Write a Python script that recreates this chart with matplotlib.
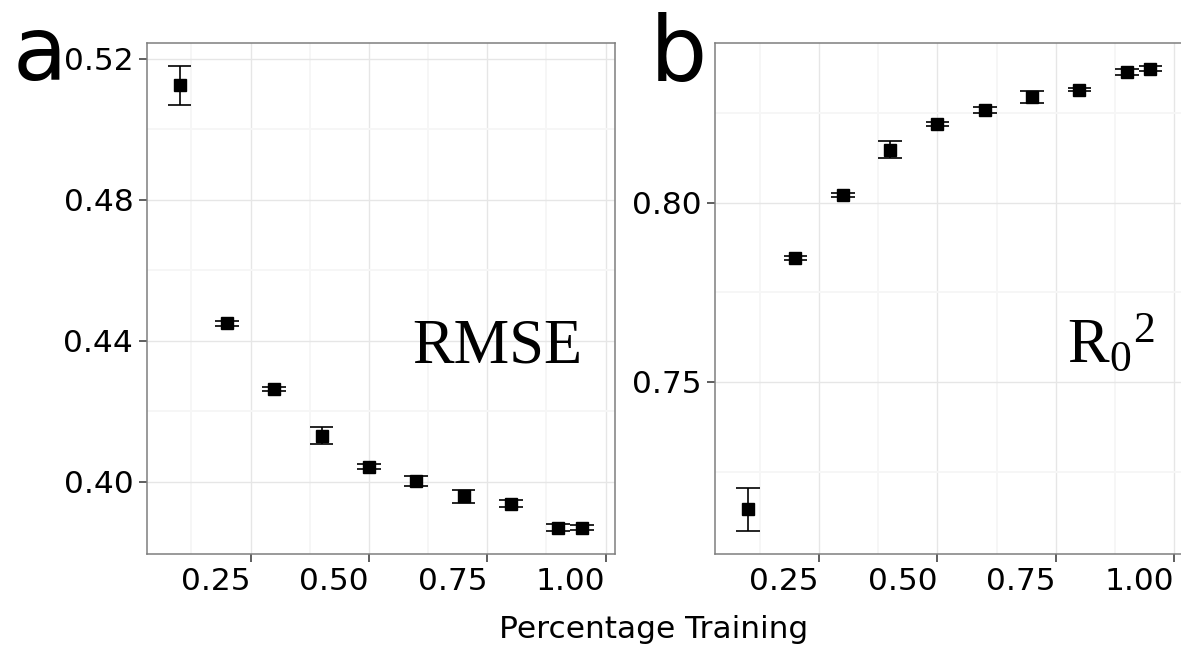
import numpy as np
from matplotlib import pyplot as plt

# -------------------------------------------------------------------
# values
pct = [0.10, 0.20, 0.30, 0.40, 0.50, 0.60, 0.70, 0.80, 0.90, 0.95]
rmse = [0.5124, 0.4449, 0.4263, 0.4131, 0.4043, 0.4002, 0.3959, 0.3938, 0.3870, 0.3870]
rmse_err = [0.0056, 0.0008, 0.0007, 0.0025, 0.0008, 0.0015, 0.0018, 0.0010, 0.0009, 0.0006]
r2 = [0.7145, 0.7845, 0.8021, 0.8148, 0.8220, 0.8259, 0.8294, 0.8315, 0.8364, 0.8374]
r2_err = [0.0060, 0.0006, 0.0006, 0.0024, 0.0006, 0.0008, 0.0017, 0.0004, 0.0009, 0.0008]

x_ticks = [0.25, 0.50, 0.75, 1.00]
x_labels = ['0.25', '0.50', '0.75', '1.00']
x_minor = [0.125, 0.375, 0.625, 0.875]
rmse_ticks = [0.40, 0.44, 0.48, 0.52]
rmse_labels = ['0.40', '0.44', '0.48', '0.52']
rmse_minor = [0.42, 0.46, 0.50]
r2_ticks = [0.75, 0.80]
r2_labels = ['0.75', '0.80']
r2_minor = [0.725, 0.775, 0.825]

bar_w = 0.05
W, H = 1181, 646

# -------------------------------------------------------------------
fig = plt.figure(figsize=(W / 100, H / 100), dpi=100)
ax_a = fig.add_axes([146.5 / W, 92 / H, 468.5 / W, 511.5 / H])
ax_b = fig.add_axes([715 / W, 92 / H, 468.5 / W, 511.5 / H])


def panel(ax, vals, errs, yt, ylab, ymin):
    x = np.array(pct)
    v = np.array(vals)
    e = np.array(errs)
    lo, hi = v - e, v + e
    ax.vlines(x, lo, hi, color='black', lw=1.2, zorder=3)
    ax.hlines(lo, x - bar_w / 2, x + bar_w / 2, color='black', lw=1.2, zorder=3)
    ax.hlines(hi, x - bar_w / 2, x + bar_w / 2, color='black', lw=1.2, zorder=3)
    ax.plot(x, v, 's', ms=8.5, color='black', zorder=4)

    # ggplot style 5% expansion
    x0, x1 = x.min() - bar_w / 2, x.max() + bar_w / 2
    ax.set_xlim(x0 - 0.05 * (x1 - x0), x1 + 0.05 * (x1 - x0))
    y0, y1 = lo.min(), hi.max()
    ax.set_ylim(y0 - 0.05 * (y1 - y0), y1 + 0.05 * (y1 - y0))

    ax.set_xticks(x_ticks)
    ax.set_xticklabels(x_labels, ha='right')
    ax.set_xticks(x_minor, minor=True)
    ax.set_yticks(yt)
    ax.set_yticklabels(ylab)
    ax.set_yticks(ymin, minor=True)
    ax.tick_params(which='major', length=6, width=1.1, color='#333333',
                   labelsize=22.5, pad=3.5)
    ax.tick_params(which='minor', length=0)
    ax.grid(which='major', color='#E6E6E6', lw=1.0)
    ax.grid(which='minor', color='#F6F6F6', lw=1.4)
    ax.set_axisbelow(True)
    for s in ax.spines.values():
        s.set_color('#7F7F7F')
        s.set_linewidth(1.1)


panel(ax_a, rmse, rmse_err, rmse_ticks, rmse_labels, rmse_minor)
panel(ax_b, r2, r2_err, r2_ticks, r2_labels, r2_minor)
# right border of panel b falls just outside the picture
ax_b.spines['right'].set_visible(False)

# -------------------------------------------------------------------
ax_a.text(0.952, 0.4337, 'RMSE', ha='right', va='baseline',
          family='Liberation Serif', fontsize=45)
ax_b.text(0.959, 0.7555, r'$\mathregular{R_0{}^2}$', ha='right', va='baseline',
          family='Liberation Serif', fontsize=45)

fig.text(13 / W, 1 - 80 / H, 'a', fontsize=64, va='baseline', ha='left')
fig.text(650 / W, 1 - 81 / H, 'b', fontsize=65, va='baseline', ha='left')
fig.text(654 / W, 1 - 638 / H, 'Percentage Training', fontsize=22.5,
         ha='center', va='baseline')

fig.savefig('out.png', dpi=100)
